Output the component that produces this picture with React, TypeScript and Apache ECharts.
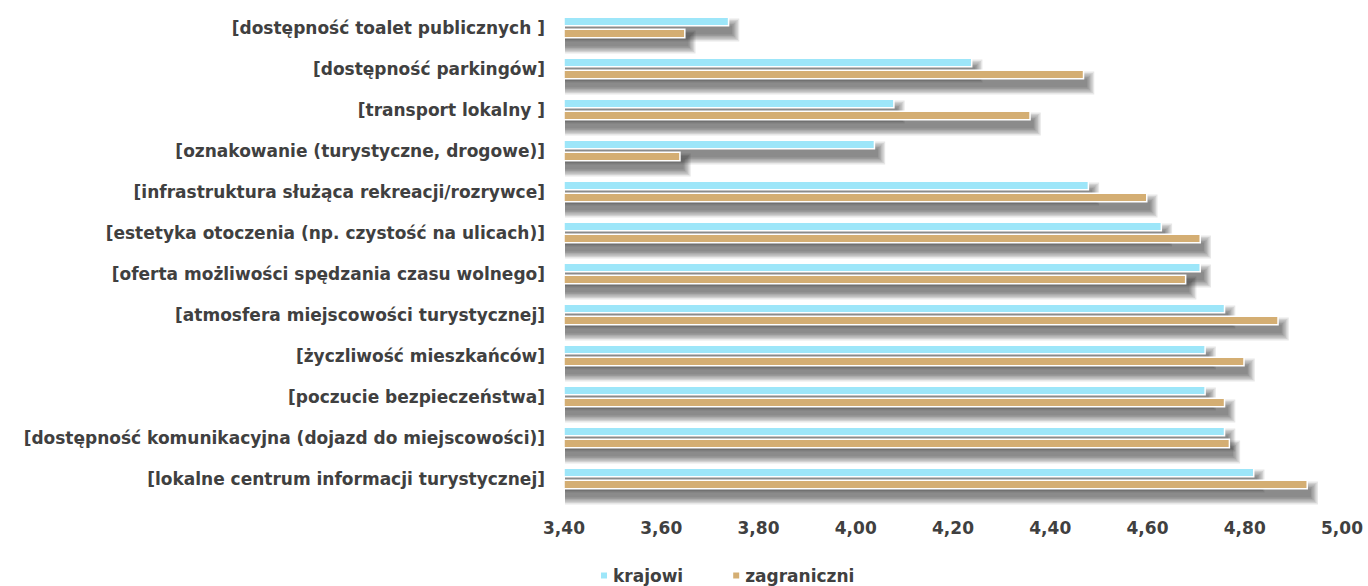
import React, { useEffect, useRef } from "react";
import * as echarts from "echarts";

const categories = [
  "[dostępność toalet publicznych ]",
  "[dostępność parkingów]",
  "[transport lokalny ]",
  "[oznakowanie (turystyczne, drogowe)]",
  "[infrastruktura służąca rekreacji/rozrywce]",
  "[estetyka otoczenia (np. czystość na ulicach)]",
  "[oferta możliwości spędzania czasu wolnego]",
  "[atmosfera miejscowości turystycznej]",
  "[życzliwość mieszkańców]",
  "[poczucie bezpieczeństwa]",
  "[dostępność komunikacyjna (dojazd do miejscowości)]",
  "[lokalne centrum informacji turystycznej]",
];

const krajowi = [3.74, 4.24, 4.08, 4.04, 4.48, 4.63, 4.71, 4.76, 4.72, 4.72, 4.76, 4.82];
const zagraniczni = [3.65, 4.47, 4.36, 3.64, 4.6, 4.71, 4.68, 4.87, 4.8, 4.76, 4.77, 4.93];

const seriesNames = ["krajowi", "zagraniczni"];
const seriesColors = ["#9de6f9", "#d4ae73"];

const FONT = "'DejaVu Sans', sans-serif";
const TEXT = "#404040";

export default function App() {
  const ref = useRef<HTMLDivElement>(null);
  useEffect(() => {
    if (!ref.current) return;
    const chart = echarts.init(ref.current, undefined, { renderer: "svg" });

    // soft drop shadow under each bar (layered translucent rects), placed via the axes' scales
    const shadowData = categories.map((_, i) => [i, krajowi[i], zagraniczni[i]]);
    const layers = 6;
    const shadowFor = (x0: number, xe: number, top: number) => {
      const out: any[] = [];
      for (let k = 0; k < layers; k++) {
        const e = k * 1.4;
        out.push({
          type: "rect",
          shape: {
            x: x0 + 1,
            y: top + 9 - e,
            width: xe - x0 + 2 + e,
            height: 9 + 2 * e,
          },
          style: { fill: "rgba(0,0,0,0.095)" },
        });
      }
      return out;
    };
    const shadowSeries = {
      type: "custom",
      silent: true,
      z: 1,
      data: shadowData,
      encode: { x: [1, 2], y: 0 },
      renderItem: (params: any, api: any) => {
        const idx = api.value(0);
        const base = api.coord([3.4, idx]);
        const p1 = api.coord([api.value(1), idx]);
        const p2 = api.coord([api.value(2), idx]);
        const cy = base[1];
        const x0 = base[0];
        return {
          type: "group",
          children: [...shadowFor(x0, p1[0], cy - 11), ...shadowFor(x0, p2[0], cy + 1)],
        };
      },
    };

    const mk = (name: string, data: number[], color: string) => ({
      name,
      type: "bar",
      data,
      z: 3,
      barWidth: 10,
      barGap: "20%",
      itemStyle: {
        color,
        borderColor: "#ffffff",
        borderWidth: 1.5,
      },
    });
    chart.setOption({
      animation: false,
      textStyle: { fontFamily: FONT },
      grid: { left: 564, right: 26, top: 7, bottom: 87, containLabel: false },
      legend: {
        data: seriesNames,
        left: 594,
        top: 562,
        icon: "rect",
        itemWidth: 8,
        itemHeight: 8,
        itemGap: 48,
        textStyle: { color: TEXT, fontWeight: "bold", fontSize: 17, fontFamily: FONT },
      },
      xAxis: {
        type: "value",
        min: 3.4,
        max: 5.0,
        interval: 0.2,
        axisLine: { show: false },
        axisTick: { show: false },
        splitLine: { show: false },
        axisLabel: {
          color: TEXT,
          fontWeight: "bold",
          fontSize: 17,
          fontFamily: FONT,
          margin: 20,
          formatter: (v: number) => v.toFixed(2).replace(".", ","),
        },
      },
      yAxis: {
        type: "category",
        data: categories,
        inverse: true,
        axisLine: { show: false },
        axisTick: { show: false },
        splitLine: { show: false },
        axisLabel: {
          color: TEXT,
          fontWeight: "bold",
          fontSize: 17,
          fontFamily: FONT,
          margin: 19,
        },
      },
      series: [
        mk(seriesNames[0], krajowi, seriesColors[0]),
        mk(seriesNames[1], zagraniczni, seriesColors[1]),
        shadowSeries,
      ],
    });
    return () => chart.dispose();
  }, []);
  return (
    <div
      ref={ref}
      style={{ position: "absolute", left: 0, top: 0, width: 1368, height: 586 }}
    />
  );
}
